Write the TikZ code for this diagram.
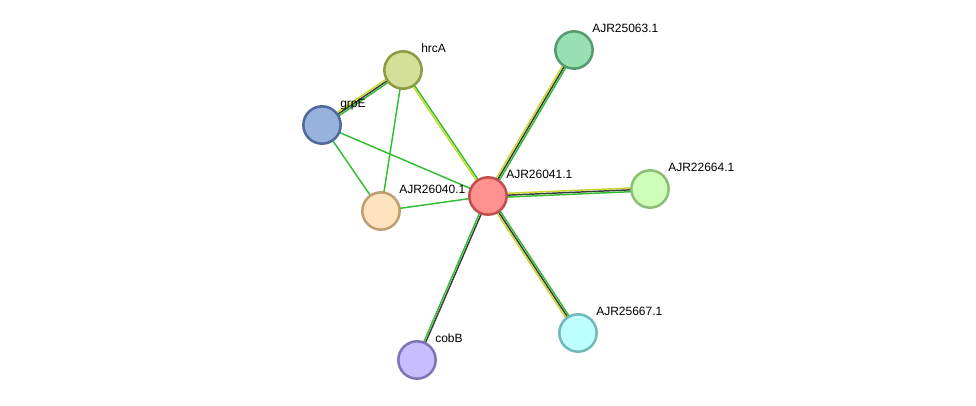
\documentclass[tikz,border=0pt]{standalone}
\usepackage{fontspec}
\setmainfont{Liberation Sans}
\usetikzlibrary{calc,backgrounds}
\definecolor{sgreen}{RGB}{50,190,50}
\definecolor{syellow}{RGB}{200,215,40}
\definecolor{sgray}{RGB}{60,60,60}
\newcommand{\edgeline}[4]{% color, offset, from, to
  \draw[#1,line width=1.1pt] ($(#3)!#2!90:(#4)$) -- ($(#4)!#2!-90:(#3)$);}
\begin{document}
\begin{tikzpicture}[x=0.75pt,y=-0.75pt,
  prot/.style = {circle,line width=1.9pt,minimum size=28pt,inner sep=0pt},
  lbl/.style = {anchor=base west,inner sep=0pt,font=\fontsize{9}{10}\selectfont}
  ]
	\useasboundingbox (0,0) rectangle (976,405);

	\node[prot,draw={rgb,255:red,140;green,155;blue,70},fill={rgb,255:red,212;green,224;blue,152}] (hrcA) at (403,70) {};
	\node[prot,draw={rgb,255:red,80;green,105;blue,155},fill={rgb,255:red,152;green,178;blue,224}] (grpE) at (322,125) {};
	\node[prot,draw={rgb,255:red,190;green,160;blue,115},fill={rgb,255:red,255;green,226;blue,190}] (j40) at (381,211) {};
	\node[prot,draw={rgb,255:red,190;green,80;blue,80},fill={rgb,255:red,255;green,145;blue,145}] (j41) at (488,196) {};
	\node[prot,draw={rgb,255:red,85;green,155;blue,110},fill={rgb,255:red,152;green,224;blue,178}] (j63) at (574,50) {};
	\node[prot,draw={rgb,255:red,140;green,190;blue,120},fill={rgb,255:red,205;green,255;blue,185}] (j64) at (650,189) {};
	\node[prot,draw={rgb,255:red,115;green,185;blue,185},fill={rgb,255:red,190;green,255;blue,255}] (j67) at (578,333) {};
	\node[prot,draw={rgb,255:red,130;green,115;blue,185},fill={rgb,255:red,200;green,190;blue,255}] (cobB) at (417,360) {};

	\begin{scope}[on background layer]
	% single green links
	\edgeline{sgreen}{0pt}{hrcA}{j40}
	\edgeline{sgreen}{0pt}{grpE}{j41}
	\edgeline{sgreen}{0pt}{grpE}{j40}
	\edgeline{sgreen}{0pt}{j40}{j41}
	% multi links
	\edgeline{sgreen}{1.4pt}{hrcA}{grpE}
	\edgeline{sgray}{0pt}{hrcA}{grpE}
	\edgeline{syellow}{-1.4pt}{hrcA}{grpE}
	\edgeline{sgreen}{0.7pt}{hrcA}{j41}
	\edgeline{syellow}{-0.7pt}{hrcA}{j41}
	\edgeline{syellow}{1.4pt}{j41}{j63}
	\edgeline{sgray}{0pt}{j41}{j63}
	\edgeline{sgreen}{-1.4pt}{j41}{j63}
	\edgeline{syellow}{1.4pt}{j41}{j64}
	\edgeline{sgray}{0pt}{j41}{j64}
	\edgeline{sgreen}{-1.4pt}{j41}{j64}
	\edgeline{sgreen}{1.4pt}{j41}{j67}
	\edgeline{sgray}{0pt}{j41}{j67}
	\edgeline{syellow}{-1.4pt}{j41}{j67}
	\edgeline{sgray}{0.7pt}{j41}{cobB}
	\edgeline{sgreen}{-0.7pt}{j41}{cobB}
	\end{scope}

	\node[lbl] at ($(hrcA)+(18,-18)$) {hrcA};
	\node[lbl] at ($(grpE)+(18,-18)$) {grpE};
	\node[lbl] at ($(j40)+(18,-18)$) {AJR26040.1};
	\node[lbl] at ($(j41)+(18,-18)$) {AJR26041.1};
	\node[lbl] at ($(j63)+(18,-18)$) {AJR25063.1};
	\node[lbl] at ($(j64)+(18,-18)$) {AJR22664.1};
	\node[lbl] at ($(j67)+(18,-18)$) {AJR25667.1};
	\node[lbl] at ($(cobB)+(18,-18)$) {cobB};
\end{tikzpicture}
\end{document}
